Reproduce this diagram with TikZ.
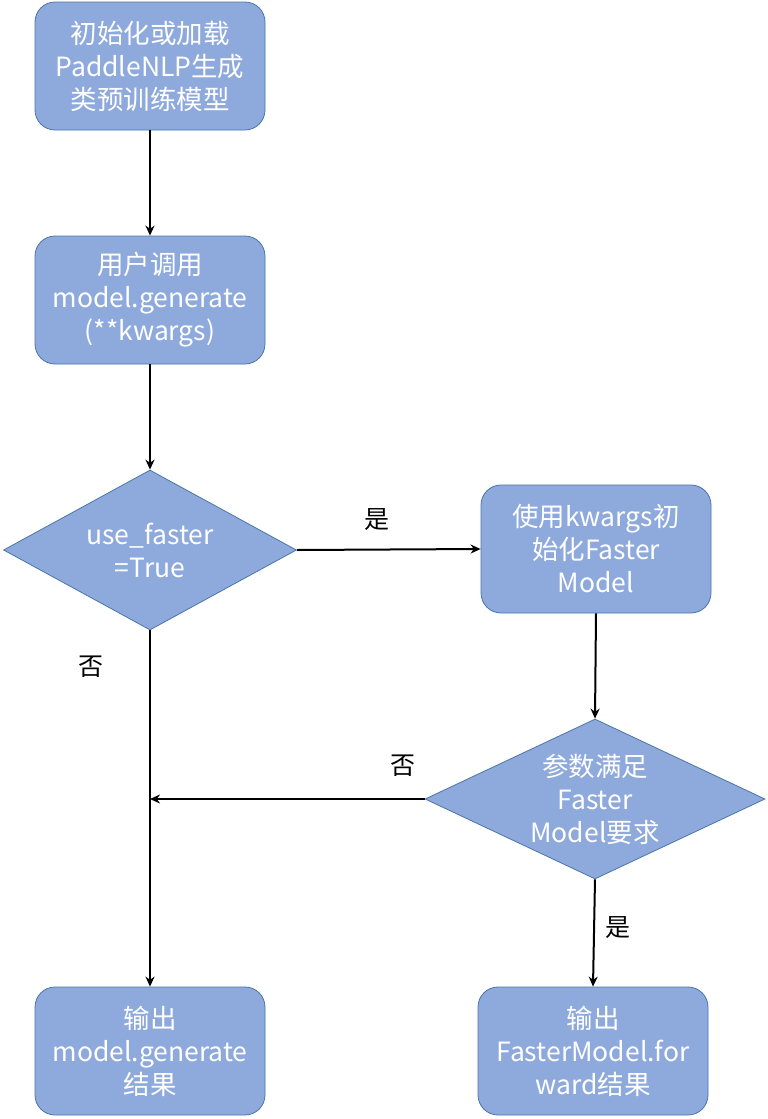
\documentclass[tikz,border=0pt]{standalone}
\usepackage{fontspec}
\setmainfont{Noto Sans CJK SC}
\usetikzlibrary{shapes.geometric,arrows.meta}
\definecolor{boxfill}{HTML}{8EA9DB}
\definecolor{boxline}{HTML}{4A76A8}
\begin{document}
\begin{tikzpicture}[x=1pt,y=-1pt,
  proc/.style={draw=boxline,line width=0.8pt,fill=boxfill,rounded corners=20pt,
    minimum width=230pt,minimum height=128pt,align=center,text=white,
    font=\fontsize{26.5}{33}\selectfont,inner sep=0pt},
  dec/.style={draw=boxline,line width=0.8pt,fill=boxfill,diamond,aspect=1.83,
    inner sep=0pt},
  dect/.style={text=white,align=center,font=\fontsize{26.5}{33}\selectfont},
  lbl/.style={font=\fontsize{25}{28}\selectfont,text=black},
  arr/.style={draw=black,line width=2pt,-{Stealth[length=10pt,width=9pt]}}]
\useasboundingbox (0,0) rectangle (768,1119);
\node[proc] (b1) at (150,66) {初始化或加载\\PaddleNLP生成\\类预训练模型};
\node[proc] (b2) at (150,300) {用户调用\\model.generate\\(**kwargs)};
\node[dec,minimum width=293pt,minimum height=160pt] (d1) at (150,550) {};
\node[dect] (d1t) at (150,550) {use\_faster\\=True};
\node[proc] (b3) at (596,549) {使用kwargs初\\始化Faster\\Model};
\node[dec,minimum width=340pt,minimum height=160pt] (d2) at (595,799) {};
\node[dect] (d2t) at (595,799) {参数满足\\Faster\\Model要求};
\node[proc] (b4) at (150,1051) {输出\\model.generate\\结果};
\node[proc] (b5) at (593,1051) {输出\\FasterModel.for\\ward结果};
\coordinate (m) at (150,799);
\draw[arr] (b1.south) -- (b2.north);
\draw[arr] (b2.south) -- (d1.north);
\draw[arr] (d1.east) -- (b3.west);
\draw[arr] (b3.south) -- (d2.north);
\draw[arr] (d2.west) -- (m);
\draw[arr] (d1.south) -- (b4.north);
\draw[arr] (d2.south) -- (b5.north);
\node[lbl] (y1) at (377,520) {是};
\node[lbl] (n2) at (403,766) {否};
\node[lbl] (n1) at (91,667) {否};
\node[lbl] (y2) at (618,928) {是};
\end{tikzpicture}
\end{document}
